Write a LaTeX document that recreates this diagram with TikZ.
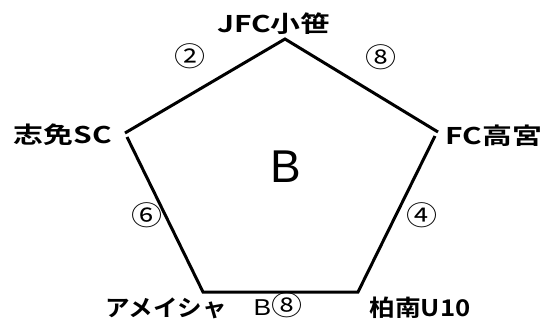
\documentclass[tikz,border=0pt]{standalone}
\usepackage{graphicx}
\usepackage{fontspec}
\setmainfont{Liberation Sans}
\newfontfamily\jp{Noto Sans CJK JP}
\newfontfamily\jpb{Noto Sans CJK JP Bold}
\newcommand\wx[2]{\scalebox{#1}[1]{#2}}
\tikzset{
  lbl/.style={font=\jpb\fontsize{23}{26}\selectfont, inner sep=0pt},
  num/.style={font=\jp\fontsize{27}{30}\selectfont, inner sep=0pt},
  edge/.style={line width=3pt, line join=miter}
}
\begin{document}
\begin{tikzpicture}[x=1pt,y=-1pt]
\useasboundingbox (0,0) rectangle (547,327);
\coordinate (apex) at (285,39);
\coordinate (lv1) at (125,133);
\coordinate (lv2) at (127,137);
\coordinate (blv) at (203,292);
\coordinate (brv) at (358,292);
\coordinate (rv1) at (438,132);
\coordinate (rv2) at (435,136);
\draw[edge] (lv1) -- (apex) -- (rv1);
\draw[edge] (lv2) -- (blv) -- (brv) -- (rv2);
\node[lbl] (t) at (274,24) {\wx{1.3}{JFC小笹}};
\node[lbl] (r) at (494,136) {\wx{1.3}{FC高宮}};
\node[lbl] (br) at (420,308) {\wx{1.12}{柏南U10}};
\node[lbl] (bl) at (166,308) {\wx{1.07}{アメイシャ}};
\node[lbl] (l) at (63,135) {\wx{1.3}{志免SC}};
\node[num] (c2) at (190,56) {\wx{1.15}{②}};
\node[num] (c8) at (381,57) {\wx{1.15}{⑧}};
\node[num] (c6) at (147,215) {\wx{1.15}{⑥}};
\node[num] (c4) at (422,215) {\wx{1.15}{④}};
\node[num] (b8) at (278,305) {\wx{1.15}{\fontsize{23}{26}\selectfont\rmfamily B\jp\fontsize{27}{30}\selectfont⑧}};
\node[font=\fontsize{46}{50}\selectfont, inner sep=0pt] (big) at (286,167) {B};
\end{tikzpicture}
\end{document}
